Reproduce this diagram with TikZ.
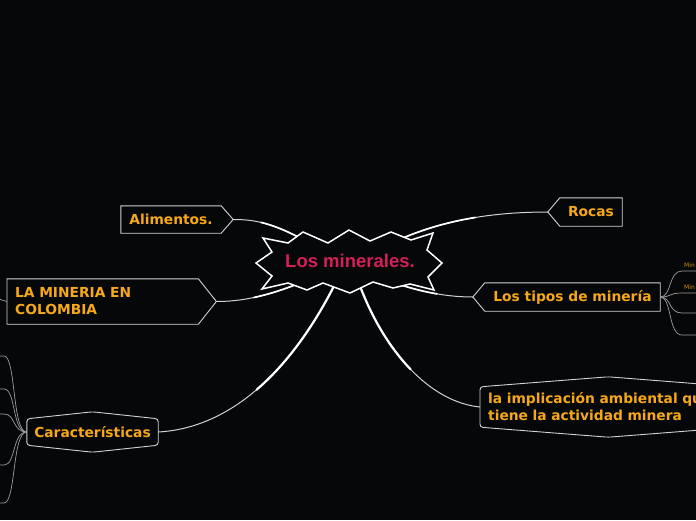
\documentclass[tikz,border=0pt]{standalone}
\usepackage{fontspec}
\setmainfont{DejaVu Sans}
\newfontfamily\titlefont{Liberation Sans}
\usetikzlibrary{calc}

\definecolor{bgdark}{RGB}{6,7,9}
\definecolor{topicgold}{RGB}{246,168,24}
\definecolor{titlered}{RGB}{214,30,88}
\definecolor{edgegray}{RGB}{210,210,210}

\tikzset{
  topic/.style={inner sep=0pt, text=topicgold, font=\fontsize{13.8}{17}\selectfont\bfseries},
  outline/.style={draw=edgegray, line width=0.9pt},
  branch/.style={draw=edgegray, line width=1pt},
  trunk/.style={draw=white, line width=2.2pt, line cap=round},
  twig/.style={draw=edgegray!75!black, line width=0.7pt},
  tiny/.style={inner sep=0pt, anchor=west, text=topicgold!85!black, font=\fontsize{6}{7}\selectfont},
}

% full branch plus a thicker first half (start, control 1, control 2, end)
\newcommand\stem[5][]{%
  \draw[branch] (#2) .. controls (#3) and (#4) .. (#5);
  \draw[trunk,#1] (#2) .. controls ($(#2)!0.5!(#3)$) and ($.25*(#2)+.5*(#3)+.25*(#4)$)
    .. ($.125*(#2)+.375*(#3)+.375*(#4)+.125*(#5)$);}

\begin{document}
\begin{tikzpicture}[x=1pt,y=-1pt]
\fill[bgdark] (0,0) rectangle (696,520);
\useasboundingbox (0,0) rectangle (696,520);
\clip (0,0) rectangle (696,520);

% topics
\node[topic, minimum width=100pt, minimum height=27pt] (alim) at (171,219.5) {Alimentos.};
\node[topic, minimum width=62pt, minimum height=28pt] (rocas) at (591,212) {Rocas};
\node[topic, anchor=west, align=left, text width=175pt, inner xsep=8pt, minimum height=45pt] (colombia) at (7,301.5) {LA MINERIA EN\\COLOMBIA};
\node[topic, minimum width=175pt, minimum height=28pt] (tipos) at (572.5,297) {Los tipos de minería};
\node[topic, anchor=west, align=left, text width=240pt, inner xsep=8pt, minimum height=40pt] (impacto) at (480,407) {la implicación ambiental que\\tiene la actividad minera};
\node[topic, minimum width=131pt, minimum height=26pt] (rasgos) at (92.5,432) {Características};

% outlines
\draw[outline] (alim.north west) -- (alim.north east) -- ([xshift=12pt]alim.east) -- (alim.south east) -- (alim.south west) -- cycle;
\draw[outline] (rocas.north east) -- (rocas.north west) -- ([xshift=-12pt]rocas.west) -- (rocas.south west) -- (rocas.south east) -- cycle;
\draw[outline] (colombia.north west) -- (colombia.north east) -- ([xshift=18pt]colombia.east) -- (colombia.south east) -- (colombia.south west) -- cycle;
\draw[outline] (tipos.north east) -- (tipos.north west) -- ([xshift=-12pt]tipos.west) -- (tipos.south west) -- (tipos.south east) -- cycle;
\draw[outline, rounded corners=3pt] (impacto.north west) -- ([yshift=10pt]impacto.north) -- (impacto.north east) -- (impacto.south east) -- ([yshift=-10pt]impacto.south) -- (impacto.south west) -- cycle;
\draw[outline, rounded corners=3pt] (rasgos.north west) -- ([yshift=7pt]rasgos.north) -- (rasgos.north east) -- (rasgos.south east) -- ([yshift=-7pt]rasgos.south) -- (rasgos.south west) -- cycle;

% ports on the central burst
\coordinate (pAlim) at (300,238);
\coordinate (pRocas) at (403,238);
\coordinate (pCol) at (300,283);
\coordinate (pTipos) at (398,284);
\coordinate (pImp) at (360,286);
\coordinate (pRasgos) at (334,286);
\coordinate (tAlim) at ([xshift=12pt]alim.east);
\coordinate (tRocas) at ([xshift=-12pt]rocas.west);
\coordinate (tCol) at ([xshift=18pt]colombia.east);
\coordinate (tTipos) at ([xshift=-12pt]tipos.west);

% connectors from the centre
\stem[line width=1.7pt]{pAlim}{268,221}{250,219.5}{tAlim}
\stem[line width=1.7pt]{pRocas}{450,218}{500,212}{tRocas}
\stem[line width=1.7pt]{pCol}{265,297}{240,301.5}{tCol}
\stem[line width=1.7pt]{pTipos}{425,293}{450,297}{tTipos}
\stem{pImp}{385,352}{430,402}{impacto.west}
\stem{pRasgos}{290,372}{230,428}{rasgos.east}

% sub-branches running off the page
\foreach \y in {271,293,313,335}
  \draw[twig] (tipos.east) .. controls (672,297) and (668,\y) .. (682,\y) -- (702,\y);
\node[tiny] (minA) at (684,265) {Min};
\node[tiny] (minB) at (684,287) {Min};
\foreach \y in {356,389,414,465,503}
  \draw[twig] (rasgos.west) .. controls (12,432) and (16,\y) .. (4,\y) -- (-6,\y);
\draw[twig] (colombia.west) .. controls (3,301.5) and (2,299) .. (-5,298);

% central burst
\draw[white, line width=1.5pt, fill=bgdark] (263,238) -- (288,243) -- (303,232) -- (328,243) -- (349,230) -- (370,241) -- (391,232) -- (411,240) -- (433,233) -- (427,250) -- (442,263) -- (428,277) -- (434,290) -- (410,284) -- (393,288) -- (373,282) -- (350,293) -- (323,283) -- (307,290) -- (288,283) -- (262,289) -- (272,276) -- (256,263) -- (272,252) -- cycle;
\node[font=\titlefont\fontsize{18.5}{20}\selectfont\bfseries, text=titlered] (mine) at (350,261) {Los minerales.};
\end{tikzpicture}
\end{document}
